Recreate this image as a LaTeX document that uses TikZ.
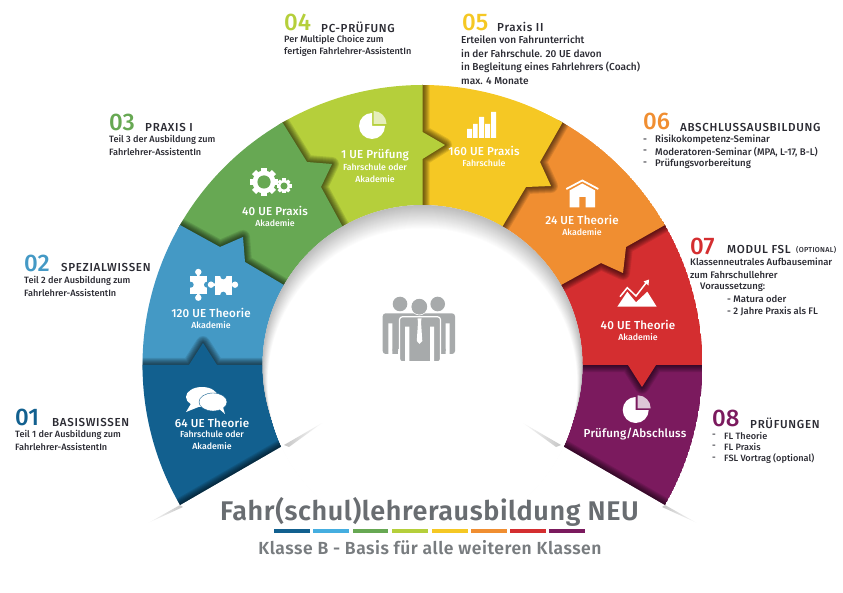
\documentclass[tikz,border=0pt]{standalone}
\usepackage{fontspec}
\setmainfont{Fira Sans}
\newfontfamily\medf{Fira Sans Medium}
\newfontfamily\semif{Fira Sans SemiBold}
\usetikzlibrary{calc}
\definecolor{sa}{HTML}{12608F}
\definecolor{sb}{HTML}{4499C5}
\definecolor{sbb}{HTML}{45AEE0}
\definecolor{sc}{HTML}{67A853}
\definecolor{sd}{HTML}{B5CF3B}
\definecolor{se}{HTML}{F5C824}
\definecolor{sf}{HTML}{F08E31}
\definecolor{sg}{HTML}{D42E30}
\definecolor{sh}{HTML}{7B1A5E}
\definecolor{txt}{HTML}{2B2B33}
\definecolor{ttl}{HTML}{696D71}
\definecolor{ppl}{HTML}{A7AAAB}
\newcommand{\segpath}[3]{($(c)+(#1:280)$) arc[start angle=#1,end angle=#2,radius=280pt] -- (#3a) -- (#3b) -- (#3c) -- ($(c)+(#2:160)$) arc[start angle=#2,end angle=#1,radius=160pt] -- cycle}
\newcommand{\bndpath}[2]{($(c)+(#1:280)$) -- (#2a) -- (#2b) -- (#2c) -- ($(c)+(#1:160)$)}
\newcommand{\stack}[1]{\foreach \w in {2,4,...,14}{\draw[black,opacity=.10,line width=\w pt,line join=round] #1;}}
\newcommand{\gearicon}[6]{%
  \foreach \a in {0,45,...,315}{\fill[white,rotate around={\a:(#1,#2)}] (#1-#5,#2-#3) rectangle (#1+#5,#2);}
  \fill[white] (#1,#2) circle[radius=#4pt];
  \fill[#6] (#1,#2) circle[radius=#5*2.2pt];}
\newcommand{\pieicon}[5]{%
  \fill[white] (#1,#2) -- (#1+13,#2) arc[start angle=0,end angle=270,radius=13pt] -- cycle;
  \fill[#5] (#3,#4) -- (#3,#4-13) arc[start angle=270,end angle=360,radius=13pt] -- cycle;}
\tikzset{
  body/.style={anchor=west,inner sep=0pt,text=txt,font=\fontsize{9.15}{11}\selectfont\medf},
  bodyb/.style={body,font=\fontsize{10.1}{12}\selectfont\medf},
  bodyc/.style={body,font=\fontsize{9.65}{12}\selectfont\medf},
  bodyd/.style={body,font=\fontsize{9.5}{12}\selectfont\medf},
  head/.style={anchor=west,inner sep=0pt,text=txt,font=\fontsize{11.6}{13}\selectfont\medf\addfontfeature{LetterSpace=6}},
  num/.style={anchor=west,inner sep=0pt,font=\fontsize{24}{26}\selectfont\medf},
  big/.style={inner sep=0pt,text=white,font=\fontsize{11.6}{13}\selectfont\medf\addfontfeature{LetterSpace=1.5}},
  small/.style={inner sep=0pt,text=white,font=\fontsize{8.8}{10}\selectfont\medf},
}
\begin{document}
\begin{tikzpicture}[x=1pt,y=1pt,yscale=-1]
\useasboundingbox (0,0) rectangle (843,593);
\coordinate (c) at (422.5,365);
% boundaries between the segments
\coordinate (Aa) at (189,365);\coordinate (Ab) at (203,343);\coordinate (Ac) at (217,365);
\coordinate (Ba) at (220,247);\coordinate (Bb) at (243,237);\coordinate (Bc) at (245,262);
\coordinate (Ca) at (307,162);\coordinate (Cb) at (332,164);\coordinate (Cc) at (321,187);
\coordinate (Da) at (422.5,132);\coordinate (Db) at (445,145);\coordinate (Dc) at (422.5,159);
\coordinate (Ea) at (540,162);\coordinate (Eb) at (551,186);\coordinate (Ec) at (526,187);
\coordinate (Fa) at (626,247);\coordinate (Fb) at (623,273);\coordinate (Fc) at (601,263);
\coordinate (Ga) at (656,365);\coordinate (Gb) at (642,387);\coordinate (Gc) at (628,365);
\coordinate (Ha) at ($(c)+(30:220)$);\coordinate (Hb) at ($(c)+(30:220)$);\coordinate (Hc) at ($(c)+(30:220)$);
% ring, from the last segment to the first
\begin{scope}
\clip (c) circle[radius=280pt];
\fill[sh] \segpath{359}{390}{H};
\begin{scope}\clip \segpath{359}{390}{H}; \stack{($(c)+(30:280)$) -- ($(c)+(30:160)$)}\end{scope}
\stack{\bndpath{360}{G}}
\fill[sg] \segpath{329}{360}{G};
\stack{\bndpath{330}{F}}
\fill[sf] \segpath{299}{330}{F};
\stack{\bndpath{300}{E}}
\fill[se] \segpath{269}{300}{E};
\stack{\bndpath{270}{D}}
\fill[sd] \segpath{239}{270}{D};
\stack{\bndpath{240}{C}}
\fill[sc] \segpath{209}{240}{C};
\stack{\bndpath{210}{B}}
\fill[sb] \segpath{179}{210}{B};
\stack{\bndpath{180}{A}}
\fill[sa] \segpath{150}{180}{A};
\begin{scope}\clip \segpath{150}{180}{A}; \stack{($(c)+(150:280)$) -- ($(c)+(150:160)$)}\end{scope}
\end{scope}
% inner disc with its soft rim
\foreach \i in {0,...,24}{
  \pgfmathsetmacro{\g}{52*(1-\i/24)}
  \pgfmathsetmacro{\yy}{365+0.75*\i}
  \pgfmathsetmacro{\rr}{160-0.22*\i}
  \fill[gray!\g!white] (422.5,\yy) circle[radius=\rr pt];
}
% slivers at the two ends
\shade[left color=gray!3,right color=gray!45] (148,523) -- (180,505) -- (183,507) -- cycle;
\shade[left color=gray!45,right color=gray!3] (284,445) -- (322,423) -- (289,447) -- cycle;
\shade[left color=gray!3,right color=gray!45] (523,423) -- (561,445) -- (556,447) -- cycle;
\shade[left color=gray!45,right color=gray!3] (665,505) -- (697,523) -- (662,507) -- cycle;
% icon 1: speech bubbles
\fill[white] (202,397) ellipse[x radius=16pt,y radius=10pt];
\fill[white] (192,402) -- (186,412) -- (201,406) -- cycle;
\draw[sa,line width=.4pt,fill=white] (213,402) ellipse[x radius=14pt,y radius=9pt];
\fill[white] (218,408) -- (225,414) -- (222,404) -- cycle;
% icon 2: puzzle
\fill[white] (190,276) rectangle (207.3,293.7);
\fill[white] (198.3,272) circle[radius=3.2pt] (198.3,297.7) circle[radius=3.2pt];
\fill[white] (197,274) rectangle (199.6,277) (197,293) rectangle (199.6,296);
\fill[sb] (190.7,284.7) circle[radius=3pt] (207,284.7) circle[radius=3pt];
\fill[white] (215,276.3) rectangle (231.7,294.7);
\fill[white] (211,284.7) circle[radius=3.2pt] (235,284.7) circle[radius=3.2pt];
\fill[white] (212,283.4) rectangle (216,286) (231,283.4) rectangle (234,286);
\fill[sb] (223.3,276.3) circle[radius=3pt] (223.3,294.7) circle[radius=3pt];
% icon 3: gears
\gearicon{264}{182}{14}{11.5}{3}{sc}
\gearicon{284}{186}{7.5}{6}{1.6}{sc}
% icon 4 and 8: pies
\pieicon{372}{126}{373.5}{124}{sd!35!white}
\pieicon{635.7}{410}{637.7}{408.3}{sh!25!white}
% icon 5: bars
\fill[white] (467,129) rectangle (472,138) (473,124) rectangle (477.5,138) (479,117) rectangle (484,138) (485,124) rectangle (490,138) (491,112) rectangle (496,138);
% icon 6: house
\draw[white,line width=1.8pt,line join=miter] (566.3,189) -- (582.3,180.5) -- (598.3,189);
\fill[white] (569.5,190.5) -- (582.3,183.5) -- (595.2,190.5) -- (595.2,207.3) -- (585.7,207.3) -- (585.7,197) -- (579.3,197) -- (579.3,207.3) -- (569.5,207.3) -- cycle;
% icon 7: mountain
\fill[white] (617.3,306.7) -- (627.3,291.7) -- (636,302.3) -- (647.3,291.7) -- (656.7,306.7) -- cycle;
\draw[sg,line width=3.4pt] (620,296.7) -- (627.3,287.7) -- (636,297) -- (645,284);
\draw[white,line width=1.5pt] (620,296.7) -- (627.3,287.7) -- (636,296) -- (646,283);
\fill[white] (643.5,281.5) -- (649,279.5) -- (648.5,285.5) -- cycle;
% centre icon: people
\fill[ppl] (400,304) circle[radius=7.3pt] (437.7,304) circle[radius=7.3pt];
\fill[ppl,rounded corners=3pt] (382.7,313.3) rectangle (455,354);
\fill[white] (388.3,323.3) rectangle (392.3,354.5) (445.7,323.3) rectangle (449.7,354.5);
\fill[white] (398,349) rectangle (440,355);
\fill[ppl] (392.5,349) rectangle (398,351) (440,349) rectangle (445.7,351);
\draw[white,line width=1.2pt,fill=ppl,rounded corners=3pt] (399.5,316.7) rectangle (440.5,362);
\fill[white] (396,361) rectangle (444,364);
\fill[ppl] (419.3,306.7) circle[radius=8pt];
\draw[white,line width=.8pt] (419.3,306.7) circle[radius=8.2pt];
\fill[ppl] (419.3,306.7) circle[radius=7.8pt];
\fill[white] (405,326.7) rectangle (409.3,362) (430,326.7) rectangle (434,362);
\fill[white] (417.5,318.5) -- (421.5,318.5) -- (421,322) -- (422.3,341) -- (419.5,344) -- (416.8,341) -- (418,322) -- cycle;
% ring labels
\node[big] (l1a) at (212,423) {64 UE Theorie};
\node[small] (l1b) at (212,434.5) {Fahrschule oder};
\node[small] (l1c) at (212,446) {Akademie};
\node[big] (l2a) at (211,313) {120 UE Theorie};
\node[small] (l2b) at (211,325) {Akademie};
\node[big] (l3a) at (275,211) {40 UE Praxis};
\node[small] (l3b) at (275,223) {Akademie};
\node[big] (l4a) at (375,155) {1 UE Prüfung};
\node[small] (l4b) at (375,167) {Fahrschule oder};
\node[small] (l4c) at (375,179) {Akademie};
\node[big] (l5a) at (484,150.5) {160 UE Praxis};
\node[small] (l5b) at (484,163) {Fahrschule};
\node[big] (l6a) at (582,220) {24 UE Theorie};
\node[small] (l6b) at (582,232.5) {Akademie};
\node[big] (l7a) at (638,325) {40 UE Theorie};
\node[small] (l7b) at (638,337) {Akademie};
\node[big] (l8a) at (635,434) {Prüfung/Abschluss};
% side texts
\node[num,text=sa] (n1) at (15,417) {01};
\node[head] (h1) at (52,422) {BASISWISSEN};
\node[body] (t1a) at (15,435) {Teil 1 der Ausbildung zum};
\node[body] (t1b) at (15,447) {Fahrlehrer-AssistentIn};
\node[num,text=sb] (n2) at (24,263) {02};
\node[head] (h2) at (61,267) {SPEZIALWISSEN};
\node[body] (t2a) at (24,281) {Teil 2 der Ausbildung zum};
\node[body] (t2b) at (24,293) {Fahrlehrer-AssistentIn};
\node[num,text=sc] (n3) at (109,122) {03};
\node[head] (h3) at (145,127) {PRAXIS I};
\node[body] (t3a) at (109,140) {Teil 3 der Ausbildung zum};
\node[body] (t3b) at (109,152) {Fahrlehrer-AssistentIn};
\node[num,text=sd] (n4) at (284,22) {04};
\node[head] (h4) at (321,27) {PC-PRÜFUNG};
\node[body] (t4a) at (284,40) {Per Multiple Choice zum};
\node[body] (t4b) at (284,52) {fertigen Fahrlehrer-AssistentIn};
\node[num,text=se] (n5) at (462,22) {05};
\node[head] (h5) at (497,27) {Praxis II};
\node[bodyb] (t5a) at (461,40) {Erteilen von Fahrunterricht};
\node[bodyb] (t5b) at (461,54) {in der Fahrschule. 20 UE davon};
\node[bodyb] (t5c) at (461,67) {in Begleitung eines Fahrlehrers (Coach)};
\node[bodyb] (t5d) at (461,81) {max. 4 Monate};
\node[num,text=sf] (n6) at (643,121.5) {06};
\node[head] (h6) at (680,127) {ABSCHLUSSAUSBILDUNG};
\node[bodyc] (d6a) at (643,140.5) {-};
\node[bodyc] (d6b) at (643,152) {-};
\node[bodyc] (d6c) at (643,164) {-};
\node[bodyc] (t6a) at (655,140) {Risikokompetenz-Seminar};
\node[bodyc] (t6b) at (655,152) {Moderatoren-Seminar (MPA, L-17, B-L)};
\node[bodyc] (t6c) at (655,164) {Prüfungsvorbereitung};
\node[num,text=sg] (n7) at (690,246) {07};
\node[head] (h7) at (727,249) {MODUL FSL};
\node[anchor=west,inner sep=0pt,text=txt,font=\fontsize{7.2}{8}\selectfont\medf\addfontfeature{LetterSpace=4}] (h7b) at (796,250) {(OPTIONAL)};
\node[bodyd] (t7a) at (690,262) {Klassenneutrales Aufbauseminar};
\node[bodyd] (t7b) at (690,275) {zum Fahrschullehrer};
\node[bodyd] (t7c) at (700,287) {Voraussetzung:};
\node[bodyd] (t7d) at (727,299) {- Matura oder};
\node[bodyd] (t7e) at (727,311) {- 2 Jahre Praxis als FL};
\node[num,text=sh] (n8) at (712,418) {08};
\node[head] (h8) at (750,423) {PRÜFUNGEN};
\node[body] (d8a) at (712,436) {-};
\node[body] (d8b) at (712,447) {-};
\node[body] (d8c) at (712,459) {-};
\node[body] (t8a) at (724,436) {FL Theorie};
\node[body] (t8b) at (724,447) {FL Praxis};
\node[body] (t8c) at (724,459) {FSL Vortrag (optional)};
% title
\node[inner sep=0pt,text=ttl,font=\fontsize{27}{30}\selectfont\semif\addfontfeature{LetterSpace=2.2}] (title) at (429.5,512) {Fahr(schul)lehrerausbildung NEU};
\fill[sa] (274.3,529) rectangle (310.3,533.3);
\fill[sbb] (313.3,529) rectangle (349,533.3);
\fill[sc] (353,529) rectangle (388,533.3);
\fill[sd] (392,529) rectangle (427.7,533.3);
\fill[se] (432,529) rectangle (467.7,533.3);
\fill[sf] (471,529) rectangle (506.7,533.3);
\fill[sg] (510.3,529) rectangle (545.7,533.3);
\fill[sh] (549,529) rectangle (585,533.3);
\node[inner sep=0pt,text=ttl!90,font=\fontsize{17.5}{20}\selectfont\semif\addfontfeature{LetterSpace=3}] (sub) at (430,548) {Klasse B - Basis für alle weiteren Klassen};
\end{tikzpicture}
\end{document}
